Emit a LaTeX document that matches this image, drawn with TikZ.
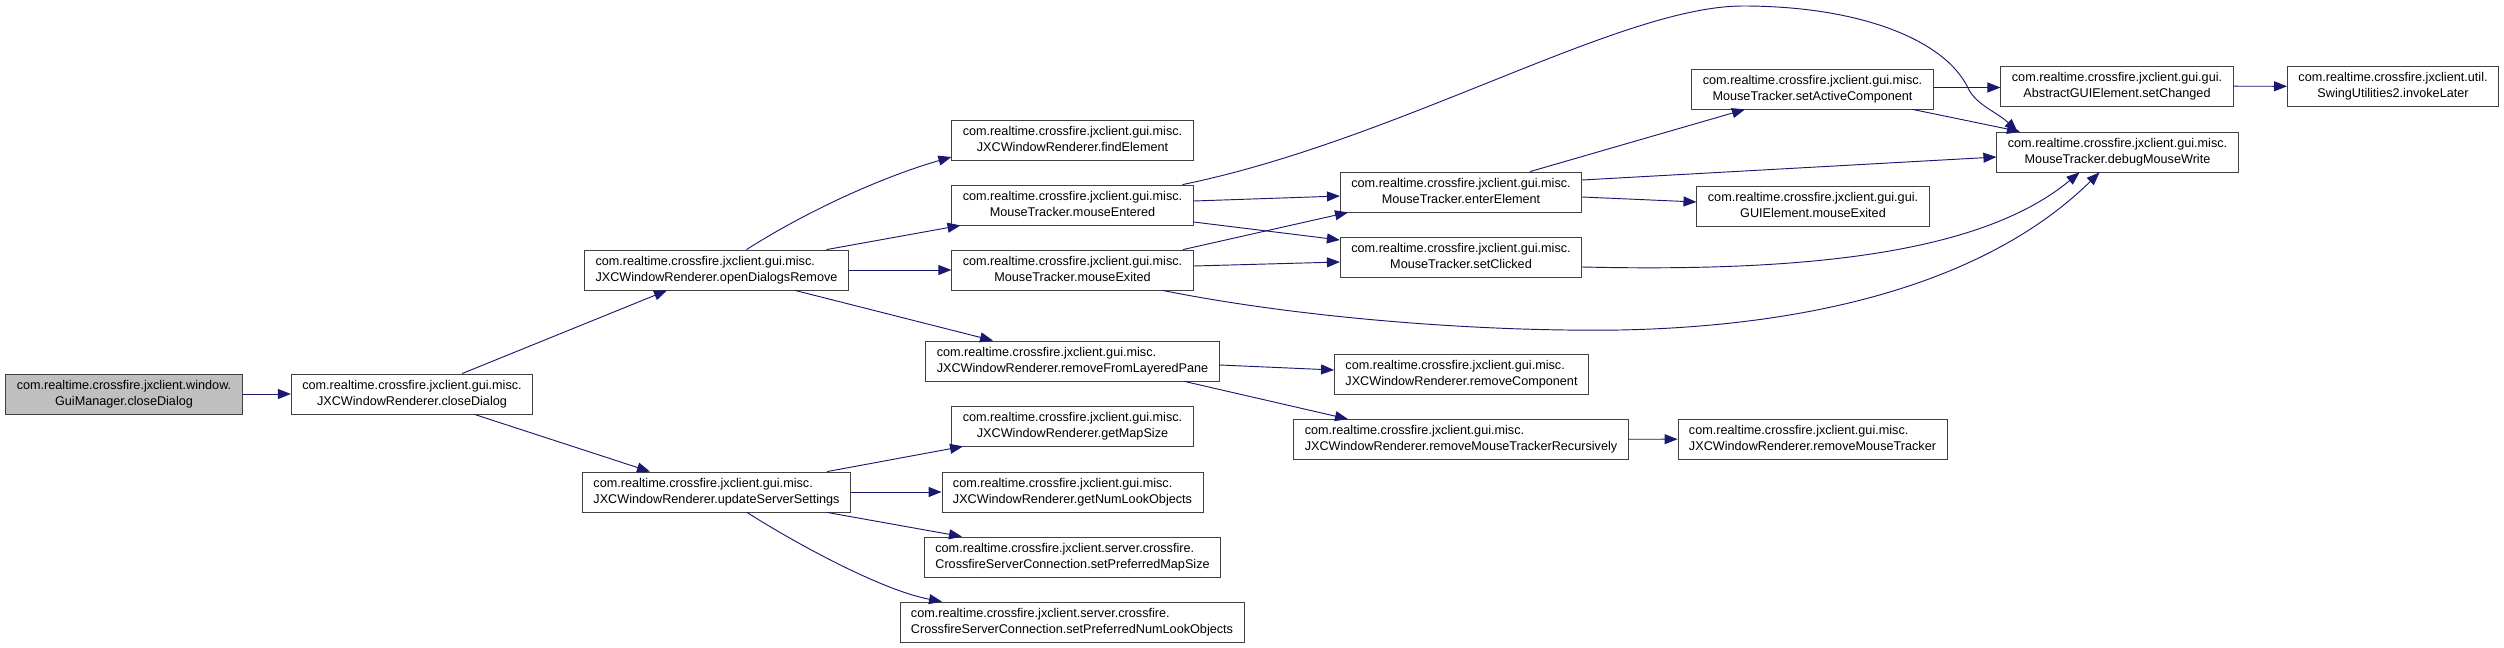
\documentclass[tikz,border=0pt]{standalone}
\usepackage{fontspec}
\setmainfont{Liberation Sans}
\usepackage{tikz}
\usetikzlibrary{arrows.meta,calc}
\definecolor{edgeblue}{HTML}{191970}
\definecolor{boxline}{HTML}{404040}
\definecolor{rootgray}{HTML}{BFBFBF}
\newcommand{\fnlabel}[2]{\begin{tabular}{@{}l@{}}#1\\\multicolumn{1}{@{}c@{}}{#2}\end{tabular}}

\begin{document}
\begin{tikzpicture}[
  x=0.03cm, y=-0.03cm,
  fn/.style={
    draw=boxline,
    fill=white,
    line width=0.7pt,
    minimum height=1.2cm,
    inner xsep=0.33cm,
    inner ysep=0pt,
    font=\fontsize{10.8}{13.66}\selectfont
  },
  root/.style={fn,fill=rootgray},
  call/.style={-{Triangle[length=0.39cm,width=0.3cm]},draw=edgeblue,line width=0.8pt}
]
  \useasboundingbox (0,0) rectangle (2504,648);

  % column 1 and 2
  \node[root] (gm) at (124,394) {\fnlabel{com.realtime.crossfire.jxclient.window.}{GuiManager.closeDialog}};
  \node[fn] (cd) at (412,394) {\fnlabel{com.realtime.crossfire.jxclient.gui.misc.}{JXCWindowRenderer.closeDialog}};

  % column 3
  \node[fn] (odr) at (716.5,270) {\fnlabel{com.realtime.crossfire.jxclient.gui.misc.}{JXCWindowRenderer.openDialogsRemove}};
  \node[fn] (uss) at (716.5,492) {\fnlabel{com.realtime.crossfire.jxclient.gui.misc.}{JXCWindowRenderer.updateServerSettings}};

  % column 4
  \node[fn] (fe) at (1072.5,140) {\fnlabel{com.realtime.crossfire.jxclient.gui.misc.}{JXCWindowRenderer.findElement}};
  \node[fn] (men) at (1072.5,205) {\fnlabel{com.realtime.crossfire.jxclient.gui.misc.}{MouseTracker.mouseEntered}};
  \node[fn] (mex) at (1072.5,270) {\fnlabel{com.realtime.crossfire.jxclient.gui.misc.}{MouseTracker.mouseExited}};
  \node[fn] (rflp) at (1072.5,361) {\fnlabel{com.realtime.crossfire.jxclient.gui.misc.}{JXCWindowRenderer.removeFromLayeredPane}};
  \node[fn] (gms) at (1072.5,426) {\fnlabel{com.realtime.crossfire.jxclient.gui.misc.}{JXCWindowRenderer.getMapSize}};
  \node[fn] (gnlo) at (1072.5,492) {\fnlabel{com.realtime.crossfire.jxclient.gui.misc.}{JXCWindowRenderer.getNumLookObjects}};
  \node[fn] (spms) at (1072.5,557) {\fnlabel{com.realtime.crossfire.jxclient.server.crossfire.}{CrossfireServerConnection.setPreferredMapSize}};
  \node[fn] (spnlo) at (1072,622) {\fnlabel{com.realtime.crossfire.jxclient.server.crossfire.}{CrossfireServerConnection.setPreferredNumLookObjects}};

  % column 5
  \node[fn] (ee) at (1461,192) {\fnlabel{com.realtime.crossfire.jxclient.gui.misc.}{MouseTracker.enterElement}};
  \node[fn] (sc) at (1461,257) {\fnlabel{com.realtime.crossfire.jxclient.gui.misc.}{MouseTracker.setClicked}};
  \node[fn] (rc) at (1461.5,374) {\fnlabel{com.realtime.crossfire.jxclient.gui.misc.}{JXCWindowRenderer.removeComponent}};
  \node[fn] (rmtr) at (1461,439.5) {\fnlabel{com.realtime.crossfire.jxclient.gui.misc.}{JXCWindowRenderer.removeMouseTrackerRecursively}};

  % column 6
  \node[fn] (sac) at (1812.5,89) {\fnlabel{com.realtime.crossfire.jxclient.gui.misc.}{MouseTracker.setActiveComponent}};
  \node[fn] (gme) at (1813,206) {\fnlabel{com.realtime.crossfire.jxclient.gui.gui.}{GUIElement.mouseExited}};
  \node[fn] (rmt) at (1812.5,439) {\fnlabel{com.realtime.crossfire.jxclient.gui.misc.}{JXCWindowRenderer.removeMouseTracker}};

  % column 7 and 8
  \node[fn] (sch) at (2117,86) {\fnlabel{com.realtime.crossfire.jxclient.gui.gui.}{AbstractGUIElement.setChanged}};
  \node[fn] (dmw) at (2117.5,152) {\fnlabel{com.realtime.crossfire.jxclient.gui.misc.}{MouseTracker.debugMouseWrite}};
  \node[fn] (il) at (2393,86.5) {\fnlabel{com.realtime.crossfire.jxclient.util.}{SwingUtilities2.invokeLater}};

  \draw[call] (gm) -- (cd);
  \draw[call] ($(cd.north)+(50,0)$) -- ($(odr.south)+(-49.5,0)$);
  \draw[call] ($(cd.south)+(62.5,0)$) -- ($(uss.north)+(-66.5,0)$);

  \draw[call] ($(odr.north)+(30,0)$) .. controls (807,211) and (882,177) .. ($(fe.west)+(0,17)$);
  \draw[call] ($(odr.north)+(110,0)$) -- ($(men.south)+(-112,0)$);
  \draw[call] (odr) -- (mex);
  \draw[call] ($(odr.south)+(78.5,0)$) -- ($(rflp.north)+(-79.5,0)$);

  \draw[call] ($(men.north)+(110,0)$) .. controls (1400,140) and (1620,6) .. (1743,6)
    .. controls (1860,6) and (1945,40) .. (1968,88)
    .. controls (1976,105) and (1997,112) .. ($(dmw.north)+(-100,0)$);
  \draw[call] ($(men.east)+(0,-4)$) -- ($(ee.west)+(0,4)$);
  \draw[call] ($(men.east)+(0,17)$) -- ($(sc.west)+(0,-17)$);
  \draw[call] ($(mex.north)+(110.5,0)$) -- ($(ee.south)+(-113,0)$);
  \draw[call] ($(mex.east)+(0,-4)$) -- ($(sc.west)+(0,5)$);
  \draw[call] ($(mex.south)+(90,0)$) .. controls (1300,318) and (1480,332) .. (1620,330)
    .. controls (1820,326) and (1990,280) .. ($(dmw.south)+(-18,0)$);

  \draw[call] ($(ee.north)+(69,0)$) -- ($(sac.south)+(-67.5,0)$);
  \draw[call] ($(ee.east)+(0,-12)$) -- ($(dmw.west)+(0,5)$);
  \draw[call] ($(ee.east)+(0,5)$) -- ($(gme.west)+(0,-4)$);
  \draw[call] ($(sc.east)+(0,10)$) .. controls (1800,272) and (1980,255) .. ($(dmw.south)+(-38,0)$);

  \draw[call] ($(sac.east)+(0,-1.5)$) -- ($(sch.west)+(0,1.5)$);
  \draw[call] ($(sac.south)+(100,0)$) -- ($(dmw.north)+(-97.5,0)$);
  \draw[call] (sch) -- (il);

  \draw[call] ($(rflp.east)+(0,4)$) -- ($(rc.west)+(0,-4)$);
  \draw[call] ($(rflp.south)+(112,0)$) -- ($(rmtr.north)+(-113,0)$);
  \draw[call] (rmtr) -- (rmt);

  \draw[call] ($(uss.north)+(110.5,0)$) -- ($(gms.south)+(-109.5,0)$);
  \draw[call] (uss) -- (gnlo);
  \draw[call] ($(uss.south)+(110.5,0)$) -- ($(spms.north)+(-110.5,0)$);
  \draw[call] ($(uss.south)+(30.5,0)$) .. controls (790,540) and (880,590) .. ($(spnlo.north)+(-130,0)$);
\end{tikzpicture}
\end{document}
